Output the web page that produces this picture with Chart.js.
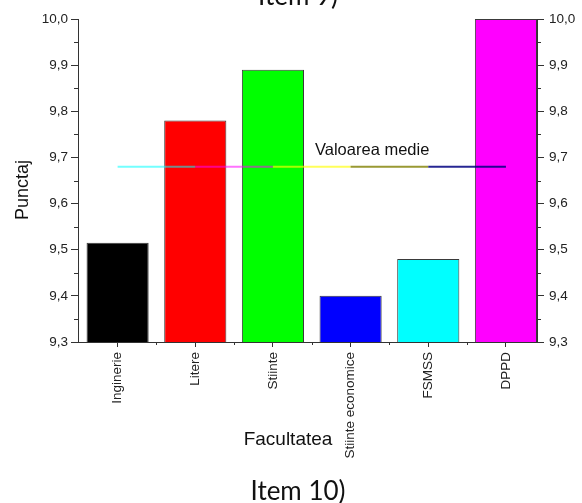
<!DOCTYPE html>
<html>
<head>
<meta charset="utf-8">
<title>Item 10 - Punctaj pe facultati</title>
<script src="https://cdn.jsdelivr.net/npm/chart.js@4/dist/chart.umd.min.js"></script>
<style>
    body { margin: 0; background: #fff; }
    #wrap { position: relative; width: 582px; height: 503px; overflow: hidden; }
    #chart { position: absolute; left: 0; top: 0; }
    .caption {
        position: absolute;
        width: 582px;
        text-align: center;
        font-family: Lato, 'Open Sans', sans-serif;
        font-size: 26px;
        line-height: 30px;
        color: #111;
    }
</style>
</head>
<body>
<div id="wrap">
    <canvas id="chart" width="582" height="503"></canvas>
    <div class="caption" style="left: 7px; top: -20px;">Item 9)</div>
    <div class="caption" style="left: 7px; top: 475px;">Item 10)</div>
</div>
<script>
// Data
const categories = ['Inginerie', 'Litere', 'Stiinte', 'Stiinte economice', 'FSMSS', 'DPPD'];
const xPositions = [1, 2, 3, 4, 5, 6];
const scores = [9.515, 9.78, 9.89, 9.40, 9.48, 10.0];
const meanLine = [9.68, 9.68, 9.68, 9.68, 9.68, 9.68];
const barColors = ['#000000', '#ff0000', '#00ff00', '#0000ff', '#00ffff', '#ff00ff'];
const meanSegmentColors = [
    'rgba(0, 255, 255, 0.55)',
    'rgba(255, 0, 255, 0.55)',
    'rgba(255, 255, 0, 0.65)',
    'rgba(128, 128, 0, 0.8)',
    'rgba(0, 0, 128, 0.85)'
];
const yTickValues = [9.3, 9.4, 9.5, 9.6, 9.7, 9.8, 9.9, 10.0];
const yTickLabels = ['9,3', '9,4', '9,5', '9,6', '9,7', '9,8', '9,9', '10,0'];

const yTitle = 'Punctaj';
const xTitle = 'Facultatea';
const meanLabel = 'Valoarea medie';

const AXIS_COLOR = '#333';
const FONT = "'Liberation Sans', Arial, sans-serif";

// Minor ticks and free-standing labels (Origin-style)
const extrasPlugin = {
    id: 'extras',
    afterDraw(chart) {
        const { ctx, chartArea, scales } = chart;
        ctx.save();
        ctx.strokeStyle = AXIS_COLOR;
        ctx.lineWidth = 1;

        // minor y ticks, halfway between the labelled ones
        ctx.beginPath();
        for (let i = 0; i < yTickValues.length - 1; i++) {
            const v = (yTickValues[i] + yTickValues[i + 1]) / 2;
            const py = Math.round(scales.y.getPixelForValue(v)) + 0.5;
            ctx.moveTo(chartArea.left - 4, py);
            ctx.lineTo(chartArea.left, py);
            ctx.moveTo(chartArea.right, py);
            ctx.lineTo(chartArea.right + 4, py);
        }
        // minor x ticks between the categories
        for (let i = 0; i < xPositions.length - 1; i++) {
            const v = (xPositions[i] + xPositions[i + 1]) / 2;
            const px = Math.round(scales.x.getPixelForValue(v)) + 0.5;
            ctx.moveTo(px, chartArea.bottom);
            ctx.lineTo(px, chartArea.bottom + 3);
        }
        ctx.stroke();

        ctx.fillStyle = '#111';
        ctx.textAlign = 'center';
        ctx.textBaseline = 'middle';

        // y title
        ctx.save();
        ctx.translate(23, 190);
        ctx.rotate(-Math.PI / 2);
        ctx.font = '18px ' + FONT;
        ctx.fillText(yTitle, 0, 0);
        ctx.restore();

        // x title
        ctx.font = '19px ' + FONT;
        ctx.fillText(xTitle, 288, 440);

        // mean label
        ctx.font = '16.5px ' + FONT;
        ctx.textAlign = 'left';
        ctx.fillText(meanLabel, 315, 150);

        ctx.restore();
    }
};

function yAxis(position, width, padding) {
    return {
        position: position,
        min: 9.3,
        max: 10.0,
        afterBuildTicks: (scale) => {
            scale.ticks = yTickValues.map(value => ({ value }));
        },
        afterFit: (scale) => {
            scale.width = width;
        },
        ticks: {
            callback: (value, index) => yTickLabels[index],
            font: { family: FONT, size: 13.5 },
            color: '#222',
            padding: padding
        },
        grid: {
            drawOnChartArea: false,
            drawTicks: true,
            tickLength: 7,
            color: AXIS_COLOR
        },
        border: { display: true, color: AXIS_COLOR, width: 1 }
    };
}

new Chart(document.getElementById('chart'), {
    data: {
        datasets: [
            {
                type: 'line',
                data: xPositions.map((x, i) => ({ x: x, y: meanLine[i] })),
                borderWidth: 2,
                pointRadius: 0,
                segment: {
                    borderColor: (c) => meanSegmentColors[c.p0DataIndex]
                },
                borderColor: meanSegmentColors[0],
                order: 0
            },
            {
                type: 'bar',
                data: xPositions.map((x, i) => ({ x: x, y: scores[i] })),
                backgroundColor: barColors,
                borderColor: '#3a3a3a',
                borderWidth: 1,
                barPercentage: 0.8,
                categoryPercentage: 1,
                order: 1
            }
        ]
    },
    options: {
        responsive: false,
        animation: false,
        layout: { padding: { top: 19, left: 0, right: 0, bottom: 0 } },
        plugins: {
            legend: { display: false },
            tooltip: { enabled: false }
        },
        scales: {
            x: {
                type: 'linear',
                min: 0.49,
                max: 6.4,
                offset: false,
                afterBuildTicks: (scale) => {
                    scale.ticks = xPositions.map(value => ({ value }));
                },
                afterFit: (scale) => {
                    scale.height = 161;
                },
                ticks: {
                    callback: (value, index) => categories[index],
                    minRotation: 90,
                    maxRotation: 90,
                    autoSkip: false,
                    font: { family: FONT, size: 13.5 },
                    color: '#222',
                    padding: 5
                },
                grid: {
                    offset: false,
                    drawOnChartArea: false,
                    drawTicks: true,
                    tickLength: 5,
                    color: AXIS_COLOR
                },
                border: { display: true, color: AXIS_COLOR, width: 1 }
            },
            y: yAxis('left', 78, 3),
            y2: yAxis('right', 45, 5)
        }
    },
    plugins: [extrasPlugin]
});
</script>
</body>
</html>
